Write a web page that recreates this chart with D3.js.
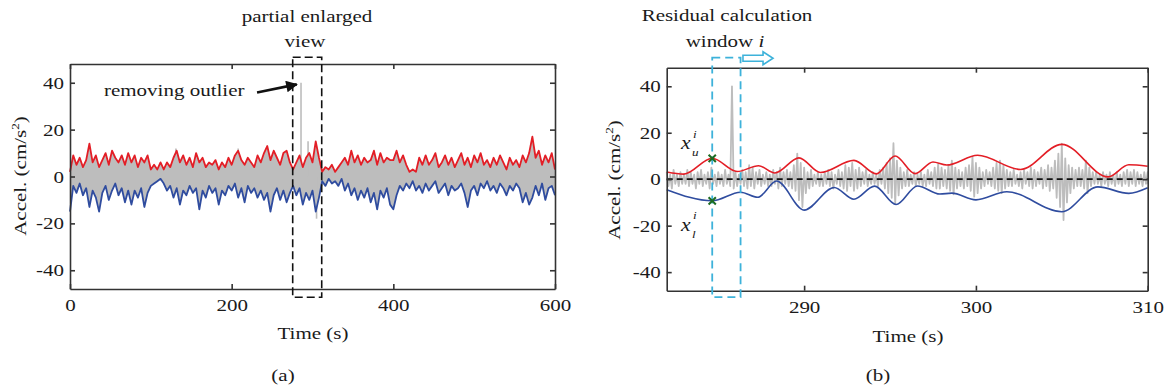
<!DOCTYPE html>
<html><head><meta charset="utf-8">
<script src="https://cdn.jsdelivr.net/npm/d3@7"></script>
<style>
body{margin:0;background:#fff}
svg{display:block}
text{font-family:"Liberation Serif","Times New Roman",serif;fill:#1a1a1a}
</style>
</head><body>
<svg id="c" width="1168" height="391"></svg>
<script>
// ---------- DATA ----------
// Panel (a): 0..600 s, sampled every 4 s (upper / lower envelopes)
const leftStep = 4;
const leftUpper = [
  2, 9, 5, 8, 4, 7, 14, 6, 9, 4,
  7, 10, 5, 11, 8, 6, 9, 5, 10, 6,
  9, 4, 8, 6, 9, 3, 5, 3, 6, 3,
  6, 4, 8, 11, 6, 9, 5, 8, 4, 10,
  6, 8, 4, 6, 5, 7, 3, 6, 4, 8,
  5, 9, 11, 7, 5, 8, 6, 4, 9, 6,
  10, 13, 7, 11, 8, 5, 10, 11, 6, 3,
  6, 9, 4, 8, 10, 6, 15, 8, 2, 4,
  3, 5, 2, 4, 6, 8, 5, 11, 6, 9,
  5, 8, 6, 7, 11, 5, 10, 6, 8, 7,
  7, 11, 6, 9, 5, 2, 3, 2, 8, 5,
  9, 5, 7, 10, 4, 6, 9, 5, 8, 4,
  7, 10, 5, 8, 4, 9, 6, 10, 5, 7,
  4, 8, 5, 9, 6, 3, 8, 5, 7, 4,
  9, 6, 10, 17, 8, 11, 5, 9, 6, 10,
  3
];
const leftLower = [
  -15, -4, -7, -3, -8, -5, -13, -6, -9, -15,
  -7, -4, -10, -6, -3, -8, -5, -11, -6, -12,
  -6, -9, -5, -13, -7, -4, -3, -2, -1, -3,
  -6, -4, -9, -5, -12, -6, -8, -4, -7, -5,
  -14, -6, -9, -4, -7, -5, -12, -6, -8, -4,
  -6, -3, -9, -5, -11, -4, -7, -5, -9, -6,
  -10, -7, -15, -8, -5, -10, -6, -11, -7, -4,
  -8, -5, -12, -7, -10, -6, -15, -9, -2, -4,
  -1, -3, -2, -4, -1, -6, -3, -8, -5, -10,
  -6, -9, -5, -11, -7, -14, -6, -9, -5, -12,
  -14, -8, -4, -6, -3, -5, -2, -6, -4, -7,
  -3, -6, -4, -2, -7, -5, -3, -8, -4, -6,
  -5, -3, -7, -13, -6, -4, -8, -3, -5, -2,
  -6, -4, -7, -3, -5, -8, -4, -6, -3, -5,
  -11, -7, -12, -9, -4, -8, -3, -10, -5, -4,
  -8
];
const leftSpikeT = [131, 208, 285.8, 294.5, 305];
const leftSpikeV = [12, 12, 40, 15, -18];
const leftXTicks = [0, 200, 400, 600];
const yTicks = [-40, -20, 0, 20, 40];
const zoomBoxT = [275.5, 311.4];
const zoomBoxV = [50.9, -51.5];

// Panel (b): 282..310 s
const upperT = [282, 283, 284.65, 286.1, 287.35, 288.3, 289.7, 290.95, 292.9, 294.2, 295.3, 296.45, 297.5, 298.3, 300.1, 302.6, 305.0, 307.7, 308.9, 310];
const upperV = [3.1, 2.2, 9.0, 3.3, 5.8, 2.7, 9.2, 2.9, 8.1, 2.3, 10.0, 2.4, 7.4, 6.1, 10.3, 4.2, 15.0, 1.0, 6.2, 5.6];
const lowerT = [282, 284.65, 286.3, 287.3, 288.4, 290.0, 291.75, 292.9, 294.1, 295.35, 296.6, 297.9, 298.6, 300.0, 301.8, 305.0, 307.1, 308.9, 310];
const lowerV = [-4.5, -9.3, -5.6, -7.8, -0.8, -13.3, -3.6, -8.6, -3.0, -10.9, -2.9, -6.4, -6.0, -8.9, -5.4, -14.0, -3.3, -6.1, -3.7];
const grayStart = 282, grayStep = 0.2;
const grayHi = [
  3, 2, 4, 2, 3,   2, 4, 3, 2, 3,   4, 2, 3, 5, 2,   3, 2, 4, 2, 40,
  3, 2, 4, 3, 6,   5, 3, 4, 2, 3,   2, 4, 3, 5, 3,   4, 3, 6, 11, 7,
  5, 3, 4, 2, 3,   2, 3, 4, 3, 2,   4, 3, 6, 5, 7,   4, 5, 3, 4, 2,
  3, 2, 4, 5, 7,   9, 15.5, 8, 5, 3, 4, 2, 3, 2, 3,  2, 4, 3, 5, 6.5,
  5, 4, 6, 8, 5,   4, 3, 5, 6, 9.5, 7, 5, 3, 4, 3,  5, 7, 8, 6, 4,
  3, 4, 2, 3, 4,   3, 5, 4, 3, 5,   4, 6, 5, 8, 11,  15.3, 9, 6, 5, 4,
  5, 4, 8, 5, 3,   3, 2, 3, 2, 3,   2, 3, 2, 3, 4,   3, 4, 3, 2, 3,
  3
];
const grayLo = [
  -3, -4, -2, -3, -2,  -2, -3, -2, -4, -2,  -3, -2, -4, -2, -3,  -2, -3, -2, -3, -4,
  -3, -2, -3, -4, -3,  -4, -2, -3, -2, -3,  -3, -2, -4, -3, -2,  -3, -4, -5, -9, -12,
  -6, -4, -3, -2, -3,  -3, -2, -3, -4, -2,  -3, -4, -5, -3, -5,  -4, -3, -2, -3, -2,
  -2, -3, -2, -4, -6,  -8, -10.5, -7, -4, -3, -3, -2, -3, -2, -3,  -3, -2, -3, -4, -4,
  -3, -4, -5, -6.5, -4,  -3, -4, -3, -5, -7.5,  -6, -4, -3, -2, -3,  -4, -5, -6, -4, -3,
  -3, -2, -3, -4, -2,  -3, -4, -3, -2, -4,  -3, -5, -4, -8, -12,  -17.6, -10, -6, -4, -3,
  -3, -4, -6, -3, -2,  -2, -3, -2, -3, -2,  -3, -2, -3, -2, -3,  -2, -3, -2, -3, -2,
  -2
];
const rightXTicks = [290, 300, 310];
const windowT = [284.65, 286.3];
const windowV = [52.3, -50.8];
const markIdxU = 2, markIdxL = 1;

// ---------- STYLE / LAYOUT ----------
const SX = 1.2, FS = 17.5;
const RED = "#e31e26", BLUE = "#2f4c9f", GRAY = "#bdbdbd", CYAN = "#3db2da", AX = "#333";
const svg = d3.select("#c");

function txt(g, x, y, s, o = {}) {
  const t = g.append("text")
    .attr("transform", `translate(${x},${y})${o.rot ? ` rotate(${o.rot})` : ""} scale(${SX},1)`)
    .attr("text-anchor", o.anchor || "middle")
    .style("font-size", (o.size || FS) + "px");
  if (o.italic) t.style("font-style", "italic");
  if (s != null) t.text(s);
  return t;
}

function frame(g, x, y, xt) {
  const [xa, xb] = x.range(), [yb, ya] = y.range();
  const fmt = d => String(d);
  const axes = [
    g.append("g").attr("transform", `translate(0,${yb})`)
      .call(d3.axisBottom(x).tickValues(xt).tickSizeInner(-5).tickSizeOuter(0).tickPadding(9.5).tickFormat(fmt)),
    g.append("g").attr("transform", `translate(0,${ya})`)
      .call(d3.axisTop(x).tickValues(xt).tickSizeInner(-5).tickSizeOuter(0).tickFormat("")),
    g.append("g").attr("transform", `translate(${xa},0)`)
      .call(d3.axisLeft(y).tickValues(yTicks).tickSizeInner(-5).tickSizeOuter(0).tickPadding(6).tickFormat(fmt)),
    g.append("g").attr("transform", `translate(${xb},0)`)
      .call(d3.axisRight(y).tickValues(yTicks).tickSizeInner(-5).tickSizeOuter(0).tickFormat(""))
  ];
  axes.forEach(a => {
    a.selectAll("path,line").attr("stroke", AX).attr("stroke-width", 1.6);
    a.selectAll("text").each(function () {
      const t = d3.select(this);
      const tx = +t.attr("x") || 0, ty = +t.attr("y") || 0;
      t.attr("x", 0).attr("y", 0)
        .attr("transform", `translate(${tx},${ty}) scale(${SX},1)`)
        .style("font-size", FS + "px").style("fill", "#1a1a1a")
        .style("font-family", '"Liberation Serif","Times New Roman",serif');
    });
  });
}

function ylabel(g, x, y) {
  const t = txt(g, x, y, null, { rot: -90 });
  t.append("tspan").text("Accel. (cm/s");
  t.append("tspan").attr("dy", -7).style("font-size", "11px").text("2");
  t.append("tspan").attr("dy", 7).text(")");
}

// ---------- PANEL (a) ----------
const xa = d3.scaleLinear([0, 600], [70, 555]);
const ya = d3.scaleLinear([-48, 48], [289, 64]);
const ga = svg.append("g");
const tL = leftUpper.map((_, i) => i * leftStep);

ga.append("path").datum(leftUpper)
  .attr("d", d3.area().x((d, i) => xa(tL[i])).y0((d, i) => ya(leftLower[i])).y1(d => ya(d)))
  .attr("fill", GRAY);
ga.selectAll("line.spike").data(leftSpikeT).join("line").attr("class", "spike")
  .attr("x1", d => xa(d)).attr("x2", d => xa(d))
  .attr("y1", ya(0)).attr("y2", (d, i) => ya(leftSpikeV[i]))
  .attr("stroke", GRAY).attr("stroke-width", 1.6);
ga.append("path").datum(leftUpper)
  .attr("d", d3.line().x((d, i) => xa(tL[i])).y(d => ya(d)))
  .attr("fill", "none").attr("stroke", RED).attr("stroke-width", 1.8).attr("stroke-linejoin", "round");
ga.append("path").datum(leftLower)
  .attr("d", d3.line().x((d, i) => xa(tL[i])).y(d => ya(d)))
  .attr("fill", "none").attr("stroke", BLUE).attr("stroke-width", 1.8).attr("stroke-linejoin", "round");

frame(ga, xa, ya, leftXTicks);

ga.append("rect")
  .attr("x", xa(zoomBoxT[0])).attr("y", ya(zoomBoxV[0]))
  .attr("width", xa(zoomBoxT[1]) - xa(zoomBoxT[0])).attr("height", ya(zoomBoxV[1]) - ya(zoomBoxV[0]))
  .attr("fill", "none").attr("stroke", "#111").attr("stroke-width", 1.6).attr("stroke-dasharray", "8,4");

// arrow "removing outlier"
const defs = svg.append("defs");
defs.append("marker").attr("id", "ah").attr("viewBox", "0 0 10 10").attr("refX", 9).attr("refY", 5)
  .attr("markerWidth", 5).attr("markerHeight", 4.5).attr("orient", "auto").attr("markerUnits", "strokeWidth")
  .append("path").attr("d", "M0,0 L10,5 L0,10 Z").attr("fill", "#111");
const arrowFrom = [231.4, 35.8], arrowTo = [280.5, 39.3];
ga.append("line")
  .attr("x1", xa(arrowFrom[0])).attr("y1", ya(arrowFrom[1]))
  .attr("x2", xa(arrowTo[0])).attr("y2", ya(arrowTo[1]))
  .attr("stroke", "#111").attr("stroke-width", 2.6).attr("marker-end", "url(#ah)");
txt(ga, 104, 96, "removing outlier", { anchor: "start" });
txt(ga, 307, 22, "partial enlarged");
txt(ga, 305, 47, "view");
txt(ga, 313, 339, "Time (s)");
txt(ga, 283, 381, "(a)");
ylabel(ga, 26, 176);

// ---------- PANEL (b) ----------
const xb = d3.scaleLinear([282, 310], [666.7, 1147.7]);
const yb = d3.scaleLinear([-48, 48], [290.7, 67.7]);
const gb = svg.append("g");
const gT = grayHi.map((_, i) => grayStart + i * grayStep);
const gPts = [];
grayHi.forEach((h, i) => {
  gPts.push([gT[i], h]);
  gPts.push([i < grayHi.length - 1 ? gT[i] + grayStep / 2 : gT[i], grayLo[i]]);
});
gb.append("path").datum(gPts)
  .attr("d", d3.line().x(d => xb(d[0])).y(d => yb(d[1])))
  .attr("fill", "none").attr("stroke", GRAY).attr("stroke-width", 1.8).attr("stroke-linejoin", "round");

gb.append("line").attr("x1", xb(282)).attr("x2", xb(310)).attr("y1", yb(0)).attr("y2", yb(0))
  .attr("stroke", "#111").attr("stroke-width", 1.7).attr("stroke-dasharray", "6,4");

gb.append("path").datum(upperT.map((t, i) => [t, upperV[i]]))
  .attr("d", d3.line().curve(d3.curveMonotoneX).x(d => xb(d[0])).y(d => yb(d[1])))
  .attr("fill", "none").attr("stroke", RED).attr("stroke-width", 1.6);
gb.append("path").datum(lowerT.map((t, i) => [t, lowerV[i]]))
  .attr("d", d3.line().curve(d3.curveMonotoneX).x(d => xb(d[0])).y(d => yb(d[1])))
  .attr("fill", "none").attr("stroke", BLUE).attr("stroke-width", 1.6);

frame(gb, xb, yb, rightXTicks);

gb.append("rect")
  .attr("x", xb(windowT[0])).attr("y", yb(windowV[0]))
  .attr("width", xb(windowT[1]) - xb(windowT[0])).attr("height", yb(windowV[1]) - yb(windowV[0]))
  .attr("fill", "none").attr("stroke", CYAN).attr("stroke-width", 1.8).attr("stroke-dasharray", "8,5");

const marks = [[upperT[markIdxU], upperV[markIdxU]], [lowerT[markIdxL], lowerV[markIdxL]]];
const symX = d3.symbolTimes || d3.symbolCross;
gb.selectAll("path.mk").data(marks).join("path").attr("class", "mk")
  .attr("transform", d => `translate(${xb(d[0])},${yb(d[1])})`)
  .attr("d", d3.symbol(symX, 36))
  .attr("fill", "none").attr("stroke", "#1d6b22").attr("stroke-width", 2);

// hollow moving-window arrow
const aw0 = xb(286.44), aw1 = xb(288.19), awy = yb(52.05);
const bh = 3, hh = 6.5, hl = 10;
gb.append("path")
  .attr("d", `M${aw0},${awy - bh} L${aw1 - hl},${awy - bh} L${aw1 - hl},${awy - hh} L${aw1},${awy} L${aw1 - hl},${awy + hh} L${aw1 - hl},${awy + bh} L${aw0},${awy + bh} Z`)
  .attr("fill", "#fff").attr("stroke", CYAN).attr("stroke-width", 1.6);

txt(gb, 727, 21, "Residual calculation");
const wt = txt(gb, 725, 47, null);
wt.append("tspan").text("window ");
wt.append("tspan").style("font-style", "italic").text("i");

// x_u^i and x_l^i labels
txt(gb, 681, 149, "x", { anchor: "start", italic: true, size: 18 });
txt(gb, 692, 156, "u", { anchor: "start", italic: true, size: 11 });
txt(gb, 693, 138, "i", { anchor: "start", italic: true, size: 11 });
txt(gb, 681, 231, "x", { anchor: "start", italic: true, size: 18 });
txt(gb, 692, 238, "l", { anchor: "start", italic: true, size: 11 });
txt(gb, 693, 219, "i", { anchor: "start", italic: true, size: 11 });

txt(gb, 908, 342, "Time (s)");
txt(gb, 878, 381, "(b)");
ylabel(gb, 620, 180);
</script>
</body></html>
